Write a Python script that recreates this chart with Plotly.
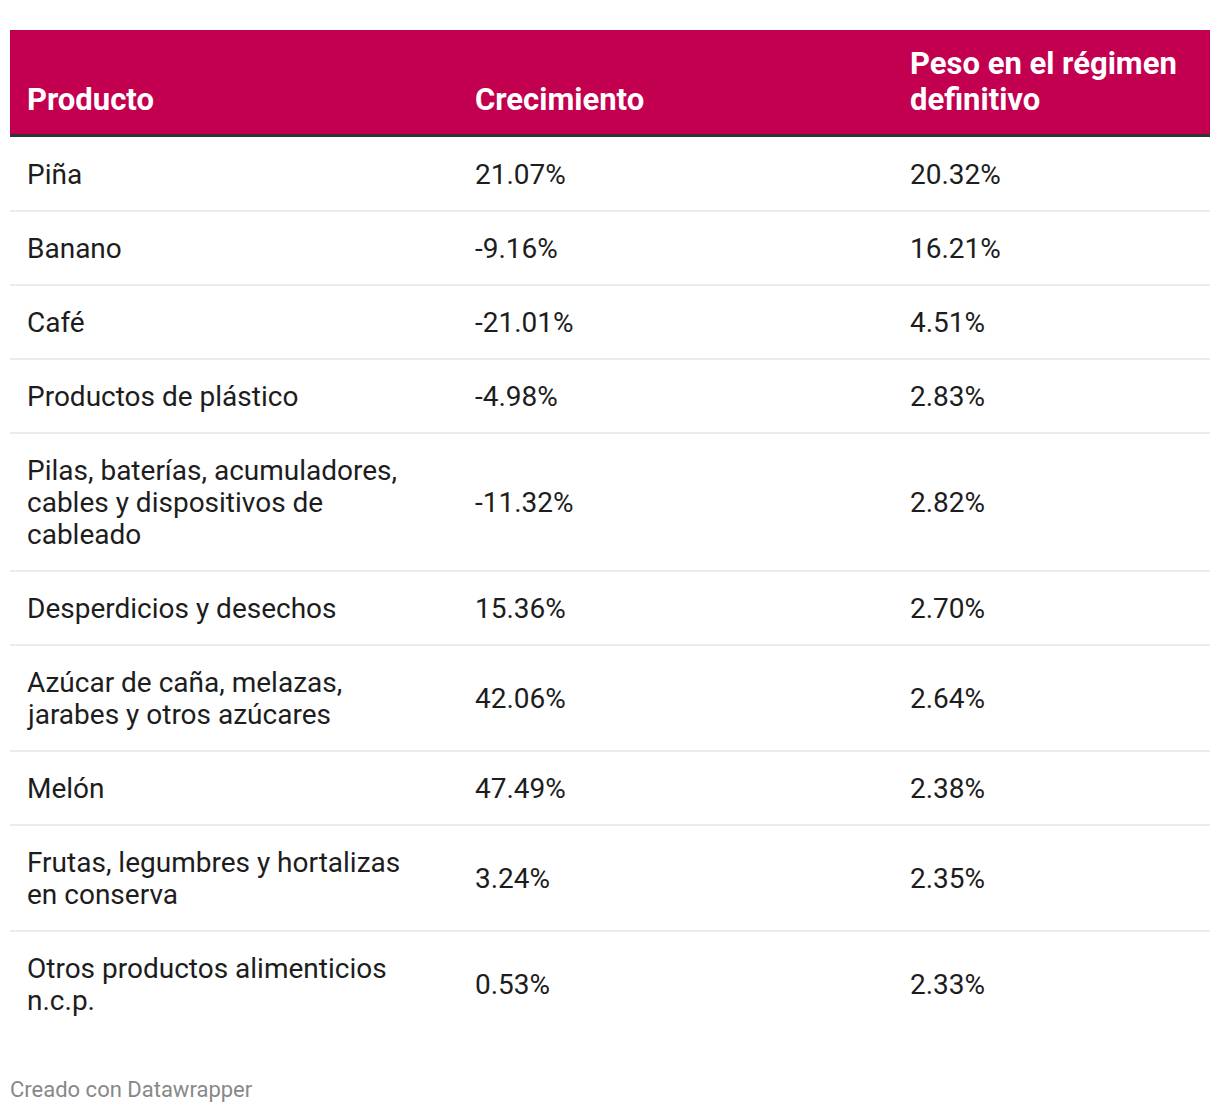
import plotly.graph_objects as go

# ---- data ----
headers = ["Producto", "Crecimiento", "Peso en el régimen<br>definitivo"]
productos = [
    "Piña",
    "Banano",
    "Café",
    "Productos de plástico",
    "Pilas, baterías, acumuladores,<br>cables y dispositivos de<br>cableado",
    "Desperdicios y desechos",
    "Azúcar de caña, melazas,<br>jarabes y otros azúcares",
    "Melón",
    "Frutas, legumbres y hortalizas<br>en conserva",
    "Otros productos alimenticios<br>n.c.p.",
]
crecimiento = [21.07, -9.16, -21.01, -4.98, -11.32, 15.36, 42.06, 47.49, 3.24, 0.53]
peso = [20.32, 16.21, 4.51, 2.83, 2.82, 2.70, 2.64, 2.38, 2.35, 2.33]
footer = "Creado con Datawrapper"

# ---- layout constants (page pixel units; page body has 8px margin) ----
OFF = 8
W, H = 1220, 1112
TABLE_X0, TABLE_X1 = 10, 1210
COL_X = [25.5, 474, 909]
HEAD_TOP, HEAD_BOT = 30, 134
HEAD_LAST_LINE_Y = 99
HEAD_LINE_H = 36
LINE_H = 32
ROW_PAD = 42
HEAD_COLOR = "#c2004f"
TEXT_COLOR = "#1d1d1d"
FONT = "Roboto"
BODY_SIZE = 28
HEAD_SIZE = 31

fig = go.Figure()
shapes = []
annotations = []


def add_lines(x, lines, yc, spacing, size, color, bold=False, anchor_last=False):
    n = len(lines)
    for k, ln in enumerate(lines):
        if anchor_last:
            yy = yc - (n - 1 - k) * spacing
        else:
            yy = yc + (k - (n - 1) / 2) * spacing
        annotations.append(dict(xref="x", yref="y", x=x, y=yy,
                                text=("<b>" + ln + "</b>") if bold else ln,
                                showarrow=False, xanchor="left", yanchor="middle", align="left",
                                borderpad=0,
                                font=dict(family=FONT, size=size, color=color)))


# header band
shapes.append(dict(type="rect", xref="x", yref="y", x0=TABLE_X0, x1=TABLE_X1,
                   y0=HEAD_TOP, y1=HEAD_BOT, fillcolor=HEAD_COLOR, line_width=0, layer="below"))
shapes.append(dict(type="line", xref="x", yref="y", x0=TABLE_X0, x1=TABLE_X1,
                   y0=HEAD_BOT + 1.5, y1=HEAD_BOT + 1.5, line=dict(color="#333333", width=3)))

for cx, htxt in zip(COL_X, headers):
    add_lines(cx, htxt.split("<br>"), HEAD_LAST_LINE_Y, HEAD_LINE_H, HEAD_SIZE, "white",
              bold=True, anchor_last=True)

# body rows
y = HEAD_BOT + 3
for i, (p, c, w) in enumerate(zip(productos, crecimiento, peso)):
    lines = p.split("<br>")
    h = ROW_PAD + LINE_H * len(lines)
    yc = y + h / 2
    add_lines(COL_X[0], lines, yc, LINE_H, BODY_SIZE, TEXT_COLOR)
    add_lines(COL_X[1], [f"{c:.2f}%"], yc, LINE_H, BODY_SIZE, TEXT_COLOR)
    add_lines(COL_X[2], [f"{w:.2f}%"], yc, LINE_H, BODY_SIZE, TEXT_COLOR)
    y += h
    if i < len(productos) - 1:
        shapes.append(dict(type="line", xref="x", yref="y", x0=TABLE_X0, x1=TABLE_X1,
                           y0=y, y1=y, line=dict(color="#ebebeb", width=2)))

add_lines(TABLE_X0 - 1, [footer], 1089, LINE_H, 22, "#888888")

fig.add_trace(go.Scatter(x=[OFF, W], y=[OFF, H], mode="markers", marker=dict(opacity=0),
                         hoverinfo="skip", showlegend=False))

fig.update_layout(
    width=W - OFF, height=H - OFF, margin=dict(l=0, r=0, t=0, b=0, pad=0),
    paper_bgcolor="white", plot_bgcolor="white",
    xaxis=dict(range=[OFF, W], visible=False, fixedrange=True),
    yaxis=dict(range=[H, OFF], visible=False, fixedrange=True),
    shapes=shapes, annotations=annotations, showlegend=False,
)
fig.write_html("out.html", config={"displayModeBar": False})
